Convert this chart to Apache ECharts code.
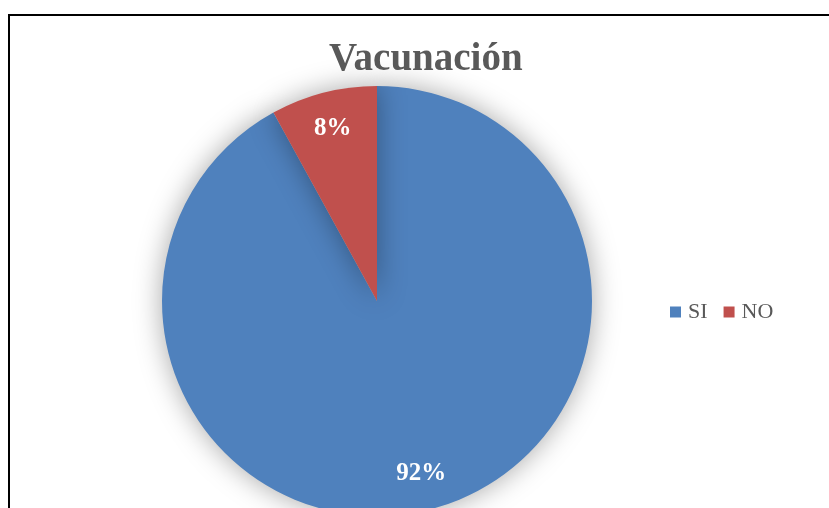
<!DOCTYPE html>
<html>
<head>
<meta charset="utf-8">
<script src="https://cdn.jsdelivr.net/npm/echarts@6/dist/echarts.min.js"></script>
<style>
  html, body { margin: 0; padding: 0; background: #fff; }
  #wrap { position: relative; width: 829px; height: 508px; overflow: hidden; }
  #chart { position: absolute; left: 0; top: 0; width: 829px; height: 508px; }
  /* marco del gráfico (solo se ven los bordes superior e izquierdo) */
  #frame { position: absolute; left: 8px; top: 14px; width: 900px; height: 600px;
           border-left: 2px solid #000; border-top: 2px solid #000; pointer-events: none; }
</style>
</head>
<body>
<div id="wrap">
  <div id="chart"></div>
  <div id="frame"></div>
</div>
<script>
// datos
var titulo = 'Vacunación';
var categorias = ['SI', 'NO'];
var valores = [92, 8];
var colores = ['#4F81BD', '#C0504D'];

var serif = '"Liberation Serif", "DejaVu Serif", serif';

var datos = categorias.map(function (c, i) {
  return { name: c, value: valores[i], itemStyle: { color: colores[i] } };
});

var myChart = echarts.init(document.getElementById('chart'));

myChart.setOption({
  backgroundColor: 'transparent',
  animation: false,
  title: {
    text: titulo,
    left: 324,
    top: 35,
    textStyle: { fontFamily: serif, fontSize: 39, fontWeight: 'bold', color: '#595959' }
  },
  legend: {
    left: 665,
    top: 296,
    itemWidth: 11,
    itemHeight: 11,
    itemGap: 16,
    icon: 'rect',
    data: categorias,
    textStyle: { fontFamily: serif, fontSize: 22, color: '#595959', padding: [0, 0, 0, 2] }
  },
  series: [
    {
      type: 'pie',
      center: [377, 301],
      radius: 215,
      startAngle: 90,
      clockwise: true,
      silent: true,
      label: { show: false },
      labelLine: { show: false },
      itemStyle: { shadowBlur: 28, shadowColor: 'rgba(0,0,0,0.35)' },
      data: datos
    },
    {
      // serie transparente solo para colocar las etiquetas de porcentaje
      type: 'pie',
      center: [377, 301],
      radius: [140, 210],
      startAngle: 90,
      clockwise: true,
      silent: true,
      itemStyle: { color: 'rgba(0,0,0,0)' },
      label: {
        show: true,
        position: 'inside',
        formatter: '{d}%',
        fontFamily: serif,
        fontSize: 25,
        fontWeight: 'bold',
        color: '#fff'
      },
      labelLine: { show: false },
      data: categorias.map(function (c, i) { return { name: c, value: valores[i] }; })
    }
  ]
});
</script>
</body>
</html>
